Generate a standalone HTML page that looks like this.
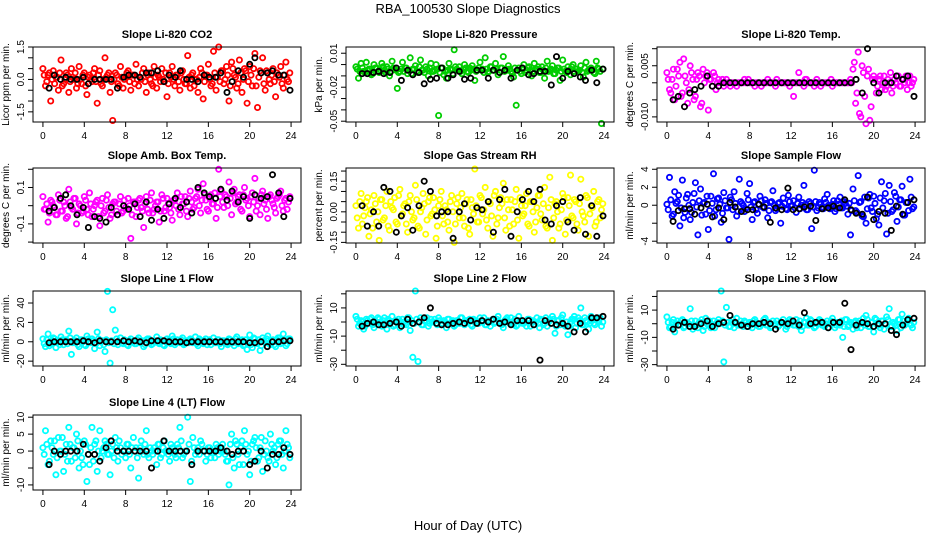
<!DOCTYPE html>
<html><head><meta charset="utf-8">
<style>
html,body{margin:0;padding:0;background:#fff;}
svg{display:block;font-family:"Liberation Sans",sans-serif;}
</style></head>
<body>
<svg id="chart" width="936" height="540" viewBox="0 0 936 540" xmlns="http://www.w3.org/2000/svg">
<text x="468" y="13" text-anchor="middle" font-size="13">RBA_100530  Slope Diagnostics</text>
<text x="468" y="530" text-anchor="middle" font-size="13">Hour of Day (UTC)</text>
</svg>
<script>
const HOURS=[0,0.25,0.5,0.75,1,1.25,1.5,1.75,2,2.25,2.5,2.75,3,3.25,3.5,3.75,4,4.25,4.5,4.75,5,5.25,5.5,5.75,6,6.25,6.5,6.75,7,7.25,7.5,7.75,8,8.25,8.5,8.75,9,9.25,9.5,9.75,10,10.25,10.5,10.75,11,11.25,11.5,11.75,12,12.25,12.5,12.75,13,13.25,13.5,13.75,14,14.25,14.5,14.75,15,15.25,15.5,15.75,16,16.25,16.5,16.75,17,17.25,17.5,17.75,18,18.25,18.5,18.75,19,19.25,19.5,19.75,20,20.25,20.5,20.75,21,21.25,21.5,21.75,22,22.25,22.5,22.75,23,23.25,23.5,23.75];
const HOURS_B=[0.125,0.375,0.625,0.875,1.125,1.375,1.625,1.875,2.125,2.375,2.625,2.875,3.125,3.375,3.625,3.875,4.125,4.375,4.625,4.875,5.125,5.375,5.625,5.875,6.125,6.375,6.625,6.875,7.125,7.375,7.625,7.875,8.125,8.375,8.625,8.875,9.125,9.375,9.625,9.875,10.125,10.375,10.625,10.875,11.125,11.375,11.625,11.875,12.125,12.375,12.625,12.875,13.125,13.375,13.625,13.875,14.125,14.375,14.625,14.875,15.125,15.375,15.625,15.875,16.125,16.375,16.625,16.875,17.125,17.375,17.625,17.875,18.125,18.375,18.625,18.875,19.125,19.375,19.625,19.875,20.125,20.375,20.625,20.875,21.125,21.375,21.625,21.875,22.125,22.375,22.625,22.875,23.125,23.375,23.625,23.875];
const BLACK_HOURS=[0.6,1.1,1.7,2.2,2.7,3.3,3.9,4.4,5.0,5.5,6.1,6.6,7.2,7.8,8.3,8.9,9.4,10.0,10.5,11.1,11.7,12.2,12.8,13.3,13.9,14.4,15.0,15.6,16.1,16.7,17.2,17.8,18.3,18.9,19.4,20.0,20.5,21.1,21.7,22.2,22.8,23.3,23.9];
const X_TICKS=[0,4,8,12,16,20,24];

const co2=[0.5,-0.3,0.2,-1.0,0.4,0.1,-0.5,0.9,-0.2,0.3,-0.6,0.5,0.0,-0.4,0.6,-0.2,0.3,-0.7,0.2,-0.1,0.5,-1.1,0.4,-0.3,1.0,0.2,-0.6,-1.9,0.3,-0.2,0.6,-0.4,0.1,0.4,-0.5,0.2,0.7,-0.3,0.0,0.5,-0.6,0.3,-0.2,0.6,-0.4,0.1,0.5,-0.1,-0.8,0.3,0.6,-0.3,0.2,-0.5,0.4,-0.2,1.1,-0.4,0.3,0.0,-0.6,0.5,-0.9,0.2,0.7,-0.3,1.3,-0.5,1.5,0.4,-0.2,0.6,-1.0,0.8,0.2,-0.4,0.9,-0.6,0.5,-1.1,0.6,-0.3,1.2,-1.3,0.4,1.0,-0.5,0.3,-0.2,0.5,-0.8,0.2,0.6,-0.4,0.8,-0.1];
const co2Core=[0.2,-0.1,0.3,0.0,-0.2,0.1,0.3,-0.3,0.0,0.2,-0.1,0.1,0.3,-0.2,0.0,0.2,-0.3,0.1,0.0,0.3,-0.1,0.2,-0.2,0.0,0.1,0.3,-0.1,0.0,0.2,-0.3,0.1,0.0,0.3,-0.1,0.2,-0.2,0.0,0.1,0.3,-0.1,0.2,0.0,-0.3,0.1,0.2,-0.1,0.0,0.3,-0.2,0.1,0.0,0.2,-0.1,0.3,0.0,-0.2,0.1,0.2,-0.3,0.0,0.1,0.3,-0.1,0.2,0.0,-0.2,0.3,0.1,-0.1,0.4,0.0,0.2,-0.3,0.5,0.1,-0.2,0.3,0.0,0.4,-0.1,0.2,0.5,-0.3,0.1,0.3,-0.2,0.4,0.0,0.2,-0.1,0.3,0.1,-0.2,0.2,0.0,0.3];
const co2Black=[-0.4,0.2,0.0,0.1,0.0,0.0,0.1,-0.2,0.0,0.0,0.0,0.0,-0.4,0.1,0.2,0.2,0.1,0.3,0.3,0.4,-0.1,0.2,0.1,0.4,0.0,0.0,-0.1,0.2,0.1,0.1,0.3,-0.6,-0.1,0.4,0.1,0.7,1.0,0.3,0.3,0.4,0.2,0.2,-0.5];
const pres=[-0.002,-0.012,0.001,-0.006,0.002,-0.004,-0.009,0.000,-0.003,-0.007,0.001,-0.005,-0.002,-0.010,0.003,-0.004,-0.021,-0.006,0.002,-0.003,-0.008,0.006,-0.004,-0.001,-0.007,0.004,-0.005,-0.002,-0.010,0.001,-0.006,0.000,-0.045,-0.003,-0.009,-0.012,0.001,-0.005,0.013,-0.004,-0.002,-0.008,0.000,-0.006,-0.003,-0.001,-0.014,-0.005,0.002,-0.004,0.006,-0.007,-0.002,-0.005,0.001,-0.009,-0.003,0.007,-0.004,-0.001,-0.006,-0.011,-0.036,-0.003,-0.008,0.000,-0.005,-0.002,-0.010,0.001,-0.004,-0.007,-0.002,-0.012,0.003,-0.005,-0.001,-0.008,-0.003,-0.014,0.004,-0.006,-0.002,-0.009,0.000,-0.004,-0.006,-0.001,-0.011,0.002,-0.005,-0.003,-0.007,0.003,-0.004,-0.052];
const presCore=[-0.004,-0.006,-0.003,-0.007,-0.005,-0.004,-0.008,-0.003,-0.006,-0.005,-0.002,-0.007,-0.004,-0.006,-0.003,-0.005,-0.007,-0.004,-0.006,-0.003,-0.005,-0.008,-0.004,-0.006,-0.002,-0.005,-0.007,-0.004,-0.003,-0.006,-0.005,-0.004,-0.007,-0.003,-0.006,-0.005,-0.004,-0.008,-0.002,-0.005,-0.006,-0.004,-0.003,-0.007,-0.005,-0.004,-0.006,-0.003,-0.005,-0.007,-0.004,-0.006,-0.002,-0.005,-0.004,-0.007,-0.003,-0.006,-0.005,-0.004,-0.008,-0.003,-0.005,-0.006,-0.004,-0.007,-0.003,-0.005,-0.006,-0.004,-0.002,-0.007,-0.005,-0.003,-0.006,-0.004,-0.008,-0.005,-0.003,-0.006,-0.004,-0.007,-0.005,-0.002,-0.006,-0.004,-0.005,-0.007,-0.003,-0.006,-0.004,-0.005,-0.008,-0.003,-0.006,-0.004];
const presBlack=[-0.008,-0.008,-0.007,-0.006,-0.008,-0.007,-0.003,-0.014,-0.005,-0.009,-0.007,-0.017,-0.013,-0.012,-0.003,-0.012,-0.009,-0.006,-0.013,-0.012,-0.005,-0.005,-0.012,-0.005,-0.007,-0.005,-0.012,-0.005,-0.003,-0.009,-0.008,-0.006,-0.006,-0.018,0.007,-0.012,-0.006,-0.008,-0.011,-0.014,-0.005,-0.016,-0.004];
const temp=[0.003,-0.002,0.001,-0.005,0.004,0.006,-0.003,0.002,-0.006,0.005,0.001,-0.004,0.003,-0.007,0.004,0.002,-0.008,0.001,0.003,-0.002,0.001,0.000,-0.001,0.001,0.000,0.000,0.000,-0.001,0.000,0.000,0.001,0.000,0.000,0.000,-0.001,0.000,0.000,0.000,0.000,0.001,0.000,0.000,-0.001,0.000,0.000,0.000,0.000,0.000,0.000,-0.004,0.000,0.003,0.000,-0.001,0.001,0.000,0.000,-0.001,0.001,0.000,0.000,0.000,0.000,0.000,-0.001,0.000,0.000,0.000,0.000,0.000,0.000,0.001,0.004,-0.006,0.009,-0.010,0.003,-0.012,0.004,-0.007,0.002,-0.003,0.001,-0.002,0.002,-0.001,0.000,-0.003,0.001,0.002,-0.001,0.001,0.000,-0.002,0.002,0.000];
const tempCore=[0.001,-0.003,0.004,-0.001,0.002,-0.004,0.007,0.000,-0.002,0.003,-0.005,0.001,0.002,-0.006,0.000,0.003,0.001,-0.001,0.002,0.000,0.000,0.001,0.000,0.000,-0.001,0.000,0.000,0.000,0.000,0.000,0.000,0.001,0.000,0.000,0.000,0.000,-0.001,0.000,0.000,0.000,0.000,0.000,0.001,0.000,0.000,0.000,0.000,-0.001,0.000,0.000,0.000,0.000,0.000,0.001,0.000,0.000,0.000,0.000,0.000,-0.001,0.000,0.000,0.000,0.001,0.000,0.000,0.000,0.000,0.000,0.000,0.000,0.000,0.006,-0.003,-0.009,0.005,-0.004,0.002,-0.011,0.001,0.001,-0.001,0.002,0.000,-0.002,0.001,0.003,-0.001,0.000,0.002,-0.001,0.001,0.002,0.000,-0.001,0.001];
const tempBlack=[-0.005,-0.004,-0.007,-0.003,-0.002,-0.001,0.002,-0.001,-0.001,0.000,0.000,0.000,0.000,0.000,0.000,0.000,0.000,0.000,0.000,0.000,0.000,0.000,0.000,0.000,0.000,0.000,0.000,0.000,0.000,0.000,0.000,0.000,0.001,-0.003,0.010,0.000,-0.003,0.000,0.000,0.002,0.001,0.002,-0.004];
const box=[0.05,-0.02,-0.09,0.03,0.00,-0.05,0.06,-0.03,0.02,-0.07,0.09,-0.01,0.04,-0.10,0.01,-0.04,0.05,-0.02,0.07,-0.06,0.00,0.03,-0.11,0.04,-0.03,0.06,-0.07,0.01,0.02,-0.05,0.05,-0.03,-0.01,0.04,-0.18,0.02,-0.06,0.03,-0.01,-0.12,0.05,-0.04,0.07,-0.02,0.02,-0.09,0.06,-0.03,0.04,-0.01,-0.08,0.03,0.07,-0.05,0.01,0.05,-0.06,0.08,-0.02,0.04,0.09,-0.04,0.12,0.03,-0.03,0.06,0.01,-0.07,0.20,0.08,-0.01,0.05,0.13,-0.05,0.09,0.02,0.06,-0.03,0.10,0.04,-0.06,0.07,0.15,0.00,-0.05,0.08,0.03,-0.07,0.06,0.01,-0.04,0.05,0.08,-0.03,0.04,0.02];
const boxCore=[-0.02,0.01,-0.04,0.02,-0.01,-0.05,0.03,-0.03,0.00,-0.06,0.02,-0.02,0.04,-0.04,0.00,-0.03,0.03,-0.05,0.01,-0.02,0.02,-0.06,0.00,-0.04,0.03,-0.01,-0.05,0.02,-0.03,0.01,-0.04,0.03,-0.02,0.00,-0.05,0.02,-0.01,0.04,-0.03,0.01,-0.02,0.03,-0.04,0.00,0.02,-0.03,0.04,-0.01,0.01,-0.04,0.03,0.00,-0.02,0.05,0.01,-0.03,0.04,0.02,-0.01,0.05,0.00,0.03,0.06,-0.02,0.04,0.01,0.07,-0.01,0.05,0.02,0.06,0.00,0.04,0.07,0.01,0.05,-0.02,0.06,0.03,0.00,0.05,0.02,-0.03,0.04,0.06,0.01,-0.02,0.05,0.03,-0.01,0.04,0.06,0.00,0.03,-0.02,0.05];
const boxBlack=[-0.03,-0.01,0.04,0.06,0.00,-0.05,-0.01,-0.12,-0.06,-0.07,-0.09,-0.01,-0.05,0.00,-0.02,0.01,-0.06,0.02,-0.08,-0.02,-0.07,0.01,0.04,-0.01,0.02,-0.04,0.10,0.07,0.05,0.04,0.09,0.03,0.08,0.02,0.05,-0.07,0.06,0.04,0.05,0.17,0.07,-0.06,0.04];
const rh=[0.03,-0.08,0.09,-0.02,0.05,-0.12,0.01,0.08,-0.05,-0.14,0.06,-0.03,0.10,-0.09,0.02,0.07,-0.06,0.11,-0.01,0.04,-0.10,0.08,-0.04,0.13,-0.07,0.00,0.09,-0.11,0.05,-0.02,0.07,-0.13,0.03,0.10,-0.06,0.01,-0.09,0.08,-0.15,0.04,-0.03,0.09,-0.07,0.06,-0.11,0.02,0.21,-0.05,0.08,-0.01,0.12,-0.08,0.04,-0.12,0.10,-0.03,0.07,0.14,-0.09,0.01,0.06,-0.06,0.11,-0.13,0.03,-0.01,0.09,-0.07,0.05,-0.10,0.02,0.08,-0.04,0.12,-0.08,0.17,-0.14,0.04,0.00,-0.06,0.09,-0.11,0.07,0.18,-0.03,0.05,-0.09,0.16,-0.02,0.08,-0.12,0.03,0.10,-0.05,0.06,0.01];
const rhCore=[-0.03,0.05,-0.06,0.02,0.07,-0.01,-0.08,0.04,0.00,0.06,-0.04,0.03,-0.07,0.05,0.01,-0.05,0.08,-0.02,0.03,-0.06,0.05,0.00,-0.03,0.06,-0.08,0.02,0.04,-0.04,0.07,-0.01,0.01,-0.07,0.06,-0.02,0.03,-0.05,0.05,0.00,-0.06,0.07,0.02,-0.03,0.04,-0.08,0.06,-0.01,0.03,-0.05,0.07,0.01,-0.04,0.05,-0.02,0.08,-0.06,0.02,0.04,-0.03,0.06,-0.07,0.01,0.05,-0.04,0.07,-0.02,0.03,-0.06,0.05,0.00,-0.05,0.08,-0.01,0.04,-0.07,0.02,0.06,-0.03,0.05,-0.08,0.01,0.07,-0.04,0.03,-0.02,0.06,-0.06,0.04,0.00,-0.05,0.07,-0.01,0.02,-0.07,0.05,-0.03,0.04];
const rhBlack=[0.03,-0.07,0.00,-0.07,0.12,0.10,-0.10,-0.02,0.02,-0.09,0.03,0.15,0.10,-0.02,0.00,0.00,-0.13,0.00,0.04,-0.04,0.02,0.01,0.05,-0.10,0.06,0.11,-0.12,0.00,0.06,0.10,0.05,0.11,-0.04,-0.06,0.03,0.05,-0.05,-0.09,0.07,-0.11,0.03,-0.12,-0.02];
const sample=[0.1,3.1,-1.2,1.5,0.4,-2.3,2.8,-0.8,1.2,-1.6,0.3,2.5,-3.3,1.8,0.2,-1.0,-2.7,1.0,3.5,-0.5,0.8,-1.9,1.4,-0.3,-3.8,0.6,1.5,-1.2,2.9,0.2,-0.7,1.3,2.4,-1.6,0.4,-0.9,1.0,-0.2,0.6,-1.4,0.3,1.6,-0.6,0.2,-2.0,0.8,-0.4,1.1,-0.1,0.5,-0.8,0.9,0.0,2.2,-0.5,0.4,-2.6,3.9,-0.6,0.3,-0.2,0.7,1.2,-0.4,0.1,-0.7,0.5,0.9,-0.3,0.2,-1.0,-3.3,1.8,-0.6,3.3,0.4,-1.3,-2.0,0.8,-0.3,1.0,-1.5,-2.2,2.6,0.5,-3.2,2.2,-0.7,1.4,-1.8,0.6,2.1,-1.1,0.3,2.9,-0.4];
const sampleCore=[-0.5,0.6,-1.0,0.2,1.1,-0.3,-1.4,0.8,0.0,-0.8,1.3,-0.2,0.5,-1.1,0.3,1.0,-0.6,0.2,-1.2,0.7,0.1,-0.9,0.5,-0.3,0.9,-0.5,0.2,-0.7,0.4,0.0,-0.4,0.6,-0.2,0.3,-0.5,0.1,0.5,-0.3,0.2,-0.6,0.4,0.0,-0.4,0.3,-0.1,0.2,-0.5,0.4,0.0,-0.3,0.2,-0.4,0.3,0.1,-0.5,0.2,-0.2,0.4,-0.3,0.1,-0.4,0.3,0.0,-0.2,0.5,-0.4,0.1,-0.3,0.4,-0.1,0.2,-0.6,0.5,-0.8,0.3,-1.2,0.9,-0.4,1.2,-0.7,0.2,-1.0,0.8,-0.3,1.3,-0.9,0.4,-0.5,1.0,-0.2,0.6,-1.1,0.3,-0.6,0.9,-0.2];
const sampleBlack=[-1.8,-0.6,-0.4,-0.4,-1.0,-0.3,0.1,-1.3,-0.3,-1.6,0.3,-0.2,-0.7,-0.5,-0.5,0.1,-0.2,-1.9,-0.3,-0.5,1.9,-0.5,-0.4,-0.2,-0.1,-1.7,-0.4,-0.3,-0.1,-0.3,0.6,-0.5,-0.9,-1.0,0.9,-1.6,-0.7,-0.9,-2.8,-0.1,-1.0,0.3,0.6];
const line1=[3,-5,8,-2,4,-6,1,5,-3,2,11,-13,0,4,-5,2,-3,6,-1,3,-7,10,-4,1,-10,52,-22,33,12,-3,4,-2,1,-4,3,0,-2,4,-1,-5,2,3,-3,0,5,-2,1,-4,3,-1,6,-3,2,-1,4,-2,0,3,-1,5,-4,1,-2,3,0,-3,4,-1,2,-5,1,-2,3,0,-4,5,-1,2,-3,-8,7,-6,3,-2,-9,4,-1,6,-3,2,-5,4,-2,8,-4,3];
const line1Core=[-2,2,-4,1,3,-1,-3,2,0,-2,4,-1,1,-3,2,0,-4,3,-1,1,-2,3,0,-3,2,-1,1,-2,3,0,-1,2,-3,1,0,-2,2,-1,1,-3,3,0,-2,1,-1,2,-3,0,1,-2,3,-1,0,2,-3,1,-1,2,0,-2,3,-1,1,-3,2,0,-1,2,-2,1,0,-3,2,-1,3,-2,1,-4,2,0,-3,4,-1,2,-4,1,3,-2,0,-3,2,4,-1,1,-2,3];
const line1Black=[-1,0,0,0,0,0,1,0,-1,1,0,0,0,1,0,1,0,-1,1,1,1,0,0,0,-1,0,0,0,0,0,0,0,0,0,0,-1,-1,0,-5,0,0,1,1];
const line2=[4,-3,1,-5,2,-1,3,-4,0,2,-3,3,-5,1,4,-2,0,-4,2,-1,3,-6,-25,22,-28,3,-2,1,-3,2,0,-1,3,-2,1,-4,2,0,-3,1,-1,3,-2,0,2,-3,1,-1,3,0,-2,1,-3,2,0,4,-1,-4,2,0,3,-2,-3,4,1,-1,-3,2,0,-2,3,-4,1,-1,-3,2,4,-8,1,-2,5,-3,-9,0,2,-4,3,10,-2,1,-5,4,-1,2,0,-3];
const line2Core=[2,-1,0,-3,1,2,-2,0,3,-1,1,-2,2,0,-3,1,2,-1,0,-2,3,1,-1,2,0,-2,1,3,-1,0,2,-2,1,-1,0,2,-1,1,-2,0,3,-1,1,0,-2,2,0,-1,1,3,-2,0,1,-1,2,0,-2,1,3,-1,0,2,-2,1,-1,0,2,-3,1,0,-1,2,-2,3,0,-1,2,-3,1,3,-2,0,-3,2,4,-1,1,-2,3,0,-1,2,-2,1,3,0];
const line2Black=[-3,-1,0,-2,-2,-1,0,-3,2,-1,0,3,10,-1,-2,-2,-1,0,-1,1,-1,1,0,2,-1,0,-2,1,1,1,-2,-27,1,-1,-2,-1,-3,-7,-1,-7,3,3,4];
const line3=[5,-3,1,-6,2,-1,3,-2,0,11,-4,2,-3,1,-5,4,-1,-3,2,0,3,24,-28,12,-2,1,-3,4,-1,0,2,-2,1,-3,3,0,-2,1,4,-1,-3,2,0,-2,1,3,-4,0,2,-1,3,-2,-5,1,4,-1,2,-3,0,3,-1,-2,2,0,4,-3,1,-1,-10,3,-2,1,-4,2,0,-3,4,6,-2,1,-6,3,-1,2,-4,5,11,-2,0,-5,3,7,-1,2,0,-3];
const line3Core=[1,-2,3,0,-1,2,-3,1,0,2,-2,-1,1,3,-2,0,2,-1,-3,1,0,2,-1,1,-2,3,0,-1,2,-2,1,0,-1,2,1,-2,0,3,-1,1,-2,0,2,-1,1,0,-2,3,1,-1,0,2,-2,1,-1,3,0,-2,1,2,-1,0,-3,2,1,-1,0,2,-2,3,-1,0,1,-3,2,0,-1,3,-2,1,4,-1,-3,2,0,3,-2,1,-1,3,-3,2,0,4,-1,1];
const line3Black=[-4,-1,1,-2,-2,0,2,-2,0,1,6,1,-1,-2,0,0,1,0,-4,1,0,2,-1,8,0,1,1,-3,1,1,15,-19,-1,1,0,-2,0,0,-5,-8,-1,3,4];
const line4=[1,6,-4,3,-1,-7,4,0,-6,2,7,-3,1,5,-5,-2,3,-9,-4,7,2,-6,6,0,3,-1,-7,2,4,-3,1,0,-2,2,-5,4,1,-8,3,-1,6,-2,0,1,-4,2,-1,3,0,-3,1,-1,2,7,-2,0,10,-9,4,-1,1,3,0,-3,1,-2,0,2,-1,1,0,-3,-10,5,-5,2,-4,3,6,-1,-7,2,4,-3,1,-6,3,-2,5,0,-4,2,3,-5,6,1];
const line4Core=[-1,2,-3,1,3,-2,0,4,-1,-3,2,1,-2,3,0,-4,2,-1,1,-3,3,0,-2,1,2,-1,0,-2,1,3,-1,0,2,-1,1,0,-2,1,0,2,-1,1,-1,0,2,-2,1,0,-1,2,0,-2,1,3,-1,0,2,-3,1,0,-1,2,0,-1,1,0,-2,1,0,2,-1,-3,2,-2,3,-1,1,-4,2,0,-3,3,1,-2,4,-1,0,-3,2,1,-2,3,-1,0,2,-2];
const line4Black=[-4,0,-1,0,0,0,2,-1,-1,-3,1,3,0,0,0,0,0,0,-5,0,3,0,0,0,0,-4,0,0,0,0,1,0,-1,0,0,-4,-3,0,-5,-1,-1,1,-1];

const TITLES=["Slope Li-820 CO2","Slope Li-820 Pressure","Slope Li-820 Temp.","Slope Amb. Box Temp.","Slope Gas Stream RH","Slope Sample Flow","Slope Line 1 Flow","Slope Line 2 Flow","Slope Line 3 Flow","Slope Line 4 (LT) Flow"];
const YTITLES=["Licor ppm per min.","kPa per min.","degrees C per min.","degrees C per min.","percent per min.","ml/min per min.","ml/min per min.","ml/min per min.","ml/min per min.","ml/min per min."];
const Y_TICKS=[[1.5,1,0.5,0,-0.5,-1,-1.5],[0.01,0,-0.01,-0.02,-0.03,-0.04,-0.05],[0.01,0.005,0,-0.005,-0.01],[0.2,0.1,0,-0.1,-0.2],[0.2,0.15,0.1,0.05,0,-0.05,-0.1,-0.15],[4,2,0,-2,-4],[40,20,0,-20],[20,10,0,-10,-20,-30],[20,10,0,-10,-20,-30],[10,5,0,-5,-10]];
const Y_TICK_LABELS=[["1.5","","","0.0","","","-1.5"],["0.01","","","-0.02","","","-0.05"],["","0.005","","","-0.010"],["","0.1","","-0.1",""],["","0.15","","","0.00","","","-0.15"],["4","2","0","","-4"],["40","20","0","-20"],["","10","","-10","","-30"],["","10","","-10","","-30"],["10","5","0","","-10"]];
const Y_LIMITS=[[-1.97,1.5],[-0.0507,0.0155],[-0.0115,0.0105],[-0.205,0.207],[-0.153,0.215],[-4.2,4.14],[-25,52.4],[-31.2,22],[-31,24],[-11.5,10.65]];
const COLORED=[co2,pres,temp,box,rh,sample,line1,line2,line3,line4];
const CORES=[co2Core,presCore,tempCore,boxCore,rhCore,sampleCore,line1Core,line2Core,line3Core,line4Core];
const BLACKS=[co2Black,presBlack,tempBlack,boxBlack,rhBlack,sampleBlack,line1Black,line2Black,line3Black,line4Black];
const COLORS=["#ff0000","#00cd00","#ff00ff","#ff00ff","#ffff00","#0000ff","#00ffff","#00ffff","#00ffff","#00ffff"];

const svg=document.getElementById('chart');
const NS="http://www.w3.org/2000/svg";
const colLeft=[33,346,657], colW=268, rowTop=[47,168,291,415], rowH=75;
function mk(tag,attrs,parent){const e=document.createElementNS(NS,tag);for(const k in attrs)e.setAttribute(k,attrs[k]);(parent||svg).appendChild(e);return e;}

for(let p=0;p<10;p++){
  const L=colLeft[p%3], T=rowTop[Math.floor(p/3)], R=L+colW, B=T+rowH;
  const [ymin,ymax]=Y_LIMITS[p];
  const xs=h=>L+(h+0.96)/25.92*colW;
  const ys=v=>B-(v-ymin)/(ymax-ymin)*rowH;
  const g=mk('g',{});
  
  
  const t=mk('text',{x:(L+R)/2,y:T-9,'text-anchor':'middle','font-size':11,'font-weight':'bold'},g);
  t.textContent=TITLES[p];
  
  
  const yt=mk('text',{transform:`translate(${L-24},${(T+B)/2}) rotate(-90)`,'text-anchor':'middle','font-size':10},g);
  yt.textContent=YTITLES[p];
  
  
  const cg=mk('g',{fill:'none',stroke:COLORS[p],'stroke-width':1.8},g);
  
  
  const vals=COLORED[p];
  for(let i=0;i<Math.min(vals.length,HOURS.length);i++){
    const c=mk('circle',{cx:xs(HOURS[i]).toFixed(1),cy:ys(vals[i]).toFixed(1),r:2.6},cg);
    
    
  }
  const cv=CORES[p];
  for(let i=0;i<Math.min(cv.length,HOURS_B.length);i++){
    const c=mk('circle',{cx:xs(HOURS_B[i]).toFixed(1),cy:ys(cv[i]).toFixed(1),r:2.6},cg);
    
    
  }
  const bg=mk('g',{fill:'none',stroke:'#000','stroke-width':1.8},g);
  
  
  const bv=BLACKS[p];
  for(let i=0;i<Math.min(bv.length,BLACK_HOURS.length);i++){
    const c=mk('circle',{cx:xs(BLACK_HOURS[i]).toFixed(1),cy:ys(bv[i]).toFixed(1),r:2.6},bg);
    
    
  }
  const rect=mk('rect',{x:L,y:T,width:colW,height:rowH,fill:'none',stroke:'#000','stroke-width':1},g);
  
  
  const xa=mk('g',{stroke:'#000','stroke-width':1},g);
  
  
  mk('line',{x1:xs(X_TICKS[0]),x2:xs(X_TICKS[X_TICKS.length-1]),y1:B,y2:B},xa);
  X_TICKS.forEach(v=>{
    mk('line',{x1:xs(v),x2:xs(v),y1:B,y2:B+5},xa);
    const tx=mk('text',{x:xs(v),y:B+17,'text-anchor':'middle','font-size':10,stroke:'none',fill:'#000'},xa);
    tx.textContent=v;
    
    
  });
  const ya=mk('g',{stroke:'#000','stroke-width':1},g);
  
  
  const tk=Y_TICKS[p];
  mk('line',{x1:L,x2:L,y1:ys(tk[0]),y2:ys(tk[tk.length-1])},ya);
  tk.forEach((v,i)=>{
    mk('line',{x1:L-5,x2:L,y1:ys(v),y2:ys(v)},ya);
    const lab=Y_TICK_LABELS[p][i];
    if(lab){
      const tx=mk('text',{transform:`translate(${L-9},${ys(v)}) rotate(-90)`,'text-anchor':'middle','font-size':10,stroke:'none',fill:'#000'},ya);
      tx.textContent=lab;
      
      
    }
  });
}
</script>
</body></html>
